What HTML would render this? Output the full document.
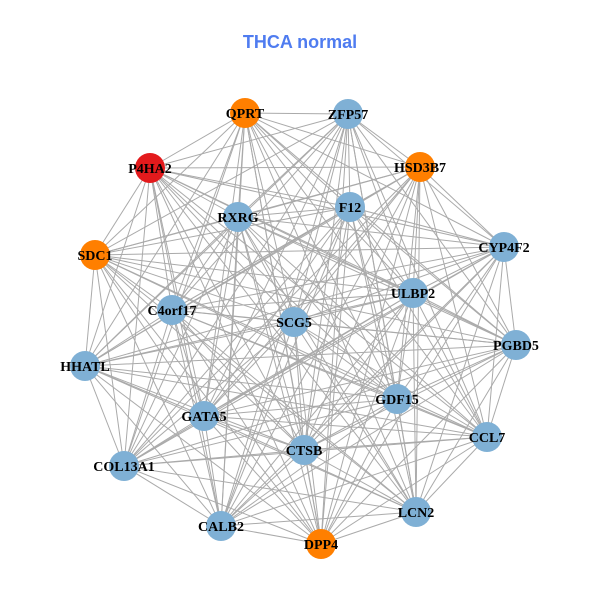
<!DOCTYPE html>
<html><head><meta charset="utf-8"><style>
html,body{margin:0;padding:0;background:#fff;}
svg{display:block}
</style></head><body>
<svg id="s" width="600" height="600" xmlns="http://www.w3.org/2000/svg">
<rect width="600" height="600" fill="#fff"/>
<text x="300" y="48" text-anchor="middle" font-family="Liberation Sans, sans-serif" font-weight="bold" font-size="18" fill="#4f7cf0">THCA normal</text>
<g id="e" stroke="#aaaaaa" stroke-width="1"></g>
<g id="n"></g>
</svg>
<script>
var N=[["QPRT",245,113,"#ff7f00"],["ZFP57",348,114,"#7fb0d5"],["P4HA2",150,168,"#e31a1c"],["HSD3B7",420,167,"#ff7f00"],["F12",350,207,"#7fb0d5"],["RXRG",238,217,"#7fb0d5"],["SDC1",95,255,"#ff7f00"],["CYP4F2",504,247,"#7fb0d5"],["ULBP2",413,293,"#7fb0d5"],["C4orf17",172,310,"#7fb0d5"],["SCG5",294,322,"#7fb0d5"],["PGBD5",516,345,"#7fb0d5"],["HHATL",85,366,"#7fb0d5"],["GDF15",397,399,"#7fb0d5"],["GATA5",204,416,"#7fb0d5"],["CCL7",487,437,"#7fb0d5"],["CTSB",304,450,"#7fb0d5"],["COL13A1",124,466,"#7fb0d5"],["LCN2",416,512,"#7fb0d5"],["CALB2",221,526,"#7fb0d5"],["DPP4",321,544,"#ff7f00"]];
var ns="http://www.w3.org/2000/svg",e=document.getElementById("e"),g=document.getElementById("n");
for(var i=0;i<N.length;i++)for(var j=i+1;j<N.length;j++){var l=document.createElementNS(ns,"line");l.setAttribute("x1",N[i][1]);l.setAttribute("y1",N[i][2]);l.setAttribute("x2",N[j][1]);l.setAttribute("y2",N[j][2]);e.appendChild(l);}
N.forEach(function(d){var c=document.createElementNS(ns,"circle");c.setAttribute("cx",d[1]);c.setAttribute("cy",d[2]);c.setAttribute("r",15);c.setAttribute("fill",d[3]);g.appendChild(c);
var t=document.createElementNS(ns,"text");t.setAttribute("x",d[1]);t.setAttribute("y",d[2]+5);t.setAttribute("text-anchor","middle");t.setAttribute("font-family","Liberation Serif, serif");t.setAttribute("font-weight","bold");t.setAttribute("font-size","14");t.setAttribute("fill","#000");t.textContent=d[0];g.appendChild(t);});
</script>
</body></html>
